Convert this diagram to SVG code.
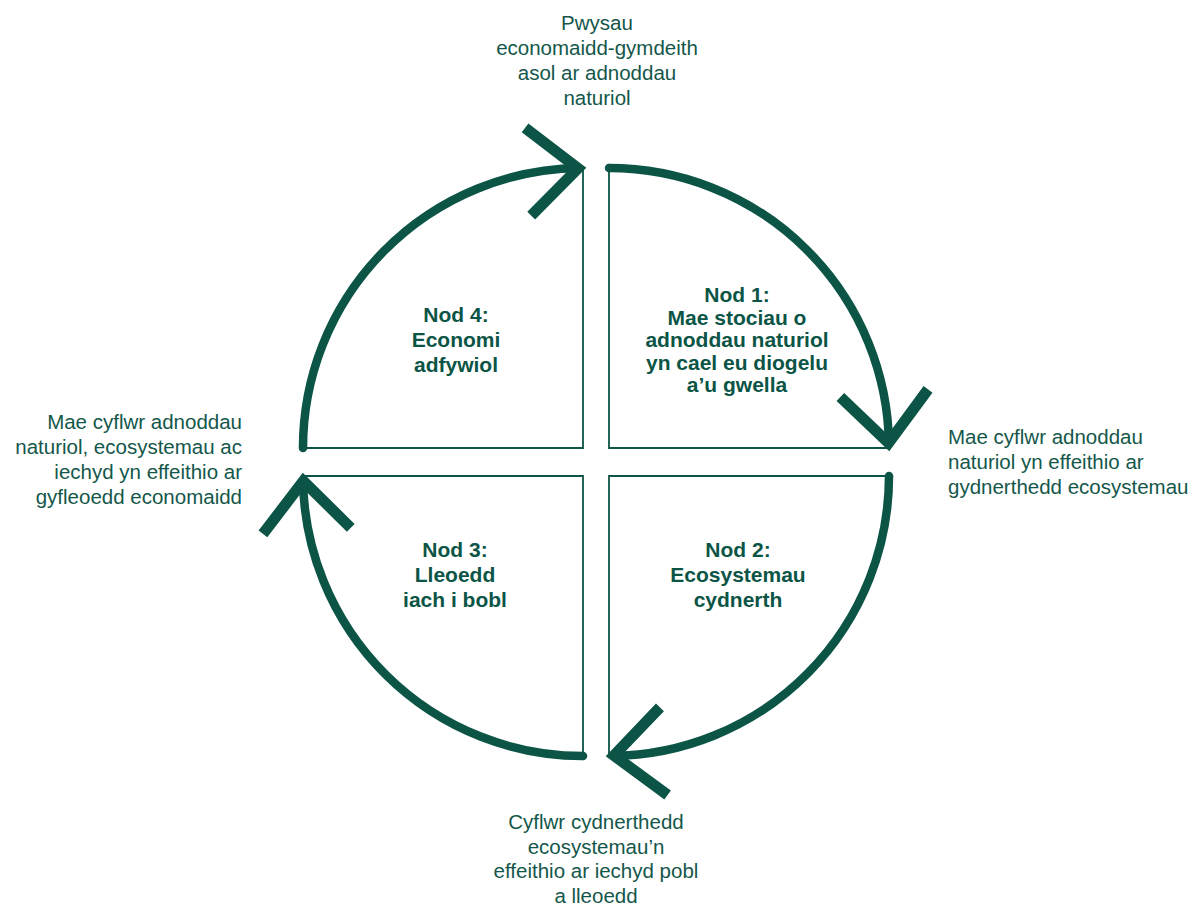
<svg xmlns="http://www.w3.org/2000/svg" xmlns:xlink="http://www.w3.org/1999/xlink" width="1204" height="907" viewBox="0 0 1204 907">
<defs>
<style>
.edge{fill:none;stroke:#0c5546;stroke-width:1.8}
.arc{fill:none;stroke:#0c5546;stroke-width:8.5;stroke-linecap:butt}
.cap{fill:#0c5546;stroke:none}
.chev{fill:none;stroke:#0c5546;stroke-width:11;stroke-linejoin:miter;stroke-miterlimit:10;stroke-linecap:butt}
.lbl{font-family:"Liberation Sans",Arial,sans-serif;font-size:20.5px;fill:#14574a}
.nod{font-family:"Liberation Sans",Arial,sans-serif;font-size:21px;font-weight:bold;fill:#0c5546;text-anchor:middle}
</style>
<path id="chev" class="chev" d="M -55,-44 L -5,0 L -55,44"/>
</defs>
<rect width="1204" height="907" fill="#ffffff"/>

<g id="nod1">
<path class="edge" d="M609,168 L609,448 L889,448"/>
<text class="nod"><tspan x="737" y="302">Nod 1:</tspan><tspan x="737" y="324.5">Mae stociau o</tspan><tspan x="737" y="347">adnoddau naturiol</tspan><tspan x="737" y="369.5">yn cael eu diogelu</tspan><tspan x="737" y="392">a’u gwella</tspan></text>
</g>
<g id="nod2">
<path class="edge" d="M889,476 L609,476 L609,756"/>
<text class="nod"><tspan x="738" y="557">Nod 2:</tspan><tspan x="738" y="582">Ecosystemau</tspan><tspan x="738" y="607">cydnerth</tspan></text>
</g>
<g id="nod3">
<path class="edge" d="M303,476 L583,476 L583,756"/>
<text class="nod"><tspan x="455" y="557">Nod 3:</tspan><tspan x="455" y="582">Lleoedd</tspan><tspan x="455" y="607">iach i bobl</tspan></text>
</g>
<g id="nod4">
<path class="edge" d="M303,448 L583,448 L583,168"/>
<text class="nod"><tspan x="456" y="322">Nod 4:</tspan><tspan x="456" y="347">Economi</tspan><tspan x="456" y="372">adfywiol</tspan></text>
</g>

<g id="connectors">
<path class="arc" d="M609,168 A280,280 0 0 1 888.98,445.07"/>
<circle class="cap" cx="609" cy="168" r="4.25"/>
<path class="arc" d="M889,476 A280,280 0 0 1 611.93,755.98"/>
<circle class="cap" cx="889" cy="476" r="4.25"/>
<path class="arc" d="M583,756 A280,280 0 0 1 303.02,478.93"/>
<circle class="cap" cx="583" cy="756" r="4.25"/>
<path class="arc" d="M303,448 A280,280 0 0 1 580.07,168.02"/>
<circle class="cap" cx="303" cy="448" r="4.25"/>
<use xlink:href="#chev" href="#chev" transform="translate(583,168) rotate(-4)"/>
<use xlink:href="#chev" href="#chev" transform="translate(889,448) rotate(85)"/>
<use xlink:href="#chev" href="#chev" transform="translate(609,756) rotate(175)"/>
<use xlink:href="#chev" href="#chev" transform="translate(303,476) rotate(266)"/>
</g>

<g id="label-top">
<text class="lbl" text-anchor="middle"><tspan x="597" y="30">Pwysau</tspan><tspan x="597" y="55">economaidd-gymdeith</tspan><tspan x="597" y="80">asol ar adnoddau</tspan><tspan x="597" y="105">naturiol</tspan></text>
</g>
<g id="label-right">
<text class="lbl" text-anchor="start"><tspan x="948" y="444">Mae cyflwr adnoddau</tspan><tspan x="948" y="469">naturiol yn effeithio ar</tspan><tspan x="948" y="494">gydnerthedd ecosystemau</tspan></text>
</g>
<g id="label-bottom">
<text class="lbl" text-anchor="middle"><tspan x="596" y="829">Cyflwr cydnerthedd</tspan><tspan x="596" y="853.5">ecosystemau’n</tspan><tspan x="596" y="878">effeithio ar iechyd pobl</tspan><tspan x="596" y="902.5">a lleoedd</tspan></text>
</g>
<g id="label-left">
<text class="lbl" text-anchor="end"><tspan x="242" y="429">Mae cyflwr adnoddau</tspan><tspan x="242" y="454">naturiol, ecosystemau ac</tspan><tspan x="242" y="479">iechyd yn effeithio ar</tspan><tspan x="242" y="504">gyfleoedd economaidd</tspan></text>
</g>
</svg>
